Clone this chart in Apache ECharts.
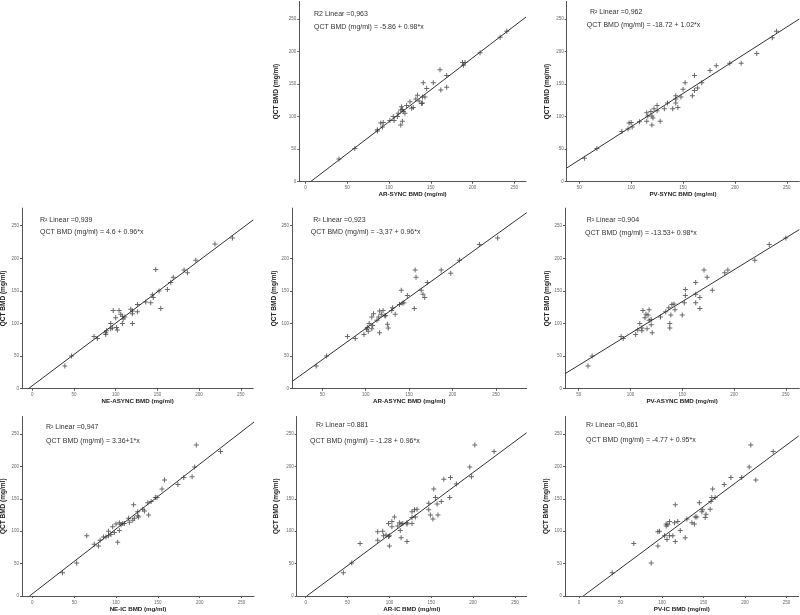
<!DOCTYPE html>
<html>
<head>
<meta charset="utf-8">
<script src="https://cdn.jsdelivr.net/npm/echarts@6/dist/echarts.min.js"></script>
<style>html,body{margin:0;padding:0;background:#fff}#c{width:800px;height:615px}</style>
</head>
<body>
<div id="c"></div>
<script>
// ---- data ----
const xAxisNames = ['AR-SYNC BMD (mg/ml)','PV-SYNC BMD (mg/ml)','NE-ASYNC BMD (mg/ml)','AR-ASYNC BMD (mg/ml)','PV-ASYNC BMD (mg/ml)','NE-IC BMD (mg/ml)','AR-IC BMD (mg/ml)','PV-IC BMD (mg/ml)'];
const yAxisName = 'QCT BMD (mg/ml)';
const r2Labels = ['R2 Linear =0,963','R² Linear =0,962','R² Linear =0,939','R² Linear =0,923','R² Linear =0.904','R² Linear =0,947','R² Linear =0.881','R² Linear =0,861'];
const eqLabels = ['QCT BMD (mg/ml) = -5.86 + 0.98*x','QCT BMD (mg/ml) = -18.72 + 1.02*x','QCT BMD (mg/ml) = 4.6 + 0.96*x','QCT BMD (mg/ml) = -3,37 + 0.96*x','QCT BMD (mg/ml) = -13.53+ 0.98*x','QCT BMD (mg/ml) = 3.36+1*x','QCT BMD (mg/ml) = -1.28 + 0.96*x','QCT BMD (mg/ml) = -4.77 + 0.95*x'];
const yTicks = [0,50,100,150,200,250];
const xTicksFrom0 = [0,50,100,150,200,250];
const xTicksFrom50 = [50,100,150,200,250];
const xMins = [-7.5, 37.9, -12.4, 15.1, 36.8, -12.4, -10.7, -16.9];
const xMaxs = [264, 262, 265, 285.5, 263, 265, 264, 264.7];
const yMin = 0, yMax = 277;

const arSync = [[40,35],[59,51],[86,78],[86,80],[90,90],[93,91],[92,84],[101,94],[105,100],[106,94],[110,100],[111,105],[114,110],[115,115],[116,93],[114,87],[116,111],[117,108],[119,105],[121,117],[125,123],[127,113],[129,114],[132,127],[134,133],[136,124],[139,120],[140,121],[140,130],[141,152],[143,130],[145,143],[153,152],[161,172],[162,141],[169,163],[169,145],[188,183],[189,179],[191,183],[209,198],[233,222],[241,231]];
const pvSync = [[55,36],[67,51],[91,77],[97,81],[98,90],[100,91],[101,84],[108,92],[115,93],[115,106],[116,101],[119,108],[120,101],[120,87],[121,98],[122,112],[125,117],[125,109],[128,93],[132,112],[135,121],[140,112],[143,127],[143,132],[143,121],[145,114],[148,130],[150,142],[152,152],[159,132],[161,140],[161,163],[164,144],[168,152],[176,171],[182,178],[195,182],[206,182],[221,197],[236,221],[240,231]];
const neAsync = [[39,35],[47,50],[74,80],[78,77],[88,86],[88,83],[89,89],[94,100],[94,92],[96,93],[97,120],[100,109],[101,94],[102,90],[104,120],[106,114],[108,111],[109,107],[111,110],[108,100],[118,122],[120,115],[120,100],[120,119],[126,129],[126,118],[136,133],[142,132],[144,144],[145,140],[148,183],[152,150],[154,123],[162,152],[166,163],[169,171],[182,182],[186,178],[196,197],[219,222],[240,231]];
const arAsync = [[43,35],[55,50],[79,80],[88,77],[98,83],[101,91],[102,94],[103,88],[104,100],[107,92],[107,110],[109,115],[108,97],[113,105],[115,110],[116,119],[116,86],[118,114],[120,120],[122,112],[123,112],[125,99],[126,93],[130,120],[131,124],[134,114],[139,129],[142,131],[144,132],[141,151],[148,143],[156,123],[157,182],[158,171],[164,151],[166,145],[168,140],[171,163],[187,182],[198,177],[208,197],[231,221],[252,231]];
const pvAsync = [[59,35],[63,50],[91,80],[93,77],[105,83],[107,90],[109,100],[111,93],[111,89],[112,120],[114,109],[115,114],[116,92],[117,113],[118,121],[118,105],[120,106],[120,98],[121,86],[129,110],[134,118],[137,124],[138,100],[138,93],[139,113],[140,129],[142,130],[143,121],[150,113],[152,132],[153,143],[153,152],[163,163],[163,132],[163,145],[167,123],[167,140],[171,182],[174,171],[179,151],[191,178],[194,182],[220,197],[234,221],[250,231]];
const neIc = [[36,36],[53,51],[65,93],[74,80],[79,77],[81,86],[85,91],[88,91],[91,93],[91,100],[94,95],[96,107],[98,98],[100,111],[102,83],[104,101],[104,113],[106,110],[108,112],[110,112],[115,120],[116,114],[120,117],[121,141],[122,120],[126,124],[126,130],[127,122],[132,134],[134,131],[138,144],[139,125],[142,146],[147,152],[149,152],[155,165],[158,179],[174,172],[181,183],[191,184],[194,199],[196,233],[225,223]];
const arIc = [[45,36],[55,51],[65,81],[86,99],[86,86],[92,100],[93,93],[96,94],[99,92],[99,112],[100,77],[100,93],[103,115],[103,107],[106,122],[110,108],[112,113],[113,101],[114,90],[114,111],[116,112],[121,113],[121,84],[121,111],[127,112],[127,130],[127,121],[130,133],[131,122],[133,134],[147,143],[147,133],[149,125],[152,119],[153,165],[155,152],[157,142],[158,125],[162,146],[165,180],[172,152],[173,183],[180,173],[196,199],[198,184],[202,233],[225,223]];
const pvIc = [[40,36],[66,81],[87,51],[95,77],[95,99],[97,100],[103,93],[105,111],[105,108],[106,87],[107,110],[109,115],[109,93],[113,93],[115,113],[116,141],[116,84],[119,115],[122,101],[128,90],[130,119],[136,113],[139,111],[140,122],[142,122],[145,144],[148,130],[149,133],[152,121],[153,126],[158,134],[159,146],[160,152],[161,165],[164,152],[175,172],[183,183],[196,183],[205,199],[207,233],[213,179],[234,223]];

// regression line endpoints as seen in the picture
const fitLines = [
  [[6,0],[264,253]],
  [[37.9,21],[262,250]],
  [[-4.8,0],[265,259]],
  [[15.1,11],[285.5,270]],
  [[36.8,23],[263,244]],
  [[-3.4,0],[265,268.5]],
  [[1.3,0],[264,252]],
  [[5,0],[264.7,247]]
];

const panelData = [arSync, pvSync, neAsync, arAsync, pvAsync, neIc, arIc, pvIc];
const panelXTicks = [xTicksFrom0, xTicksFrom50, xTicksFrom0, xTicksFrom50, xTicksFrom50, xTicksFrom0, xTicksFrom0, xTicksFrom0];

// ---- layout ----
const layout = [
  {left:299.3, top:1.4, width:226.7, height:180.3},
  {left:566.7, top:1.4, width:232.6, height:180.3},
  {left:22, top:208.1, width:231.3, height:180.6},
  {left:292, top:208.1, width:234.7, height:180.6},
  {left:565, top:208.1, width:234.3, height:180.6},
  {left:22, top:416.5, width:232, height:179.5},
  {left:296.7, top:416.5, width:230, height:179.5},
  {left:565, top:416.5, width:233.7, height:179.5}
];
const yNameGaps = [19.8, 15.5, 15.2, 14.5, 13.2, 15.6, 17.2, 14.8];
const textPos = [
  [[314,14],[314,27.3]],
  [[590,11.7],[586.7,25]],
  [[40,220],[40,232.3]],
  [[313.3,220],[310.7,232.3]],
  [[586.7,220],[585,233.3]],
  [[46,427.3],[46,441]],
  [[316,425],[310,440.7]],
  [[586,425],[586,440]]
];

const FONT = '"Liberation Sans", Arial, sans-serif';
const plusPath = 'path://M4,0h2v4h4v2h-4v4h-2v-4h-4v-2h4z';

const grids = [], xAxes = [], yAxes = [], series = [], graphics = [];
layout.forEach((g, i) => {
  grids.push(Object.assign({outerBoundsMode:'none', containLabel:false}, g));
  xAxes.push({
    type:'value', gridIndex:i, min:xMins[i], max:xMaxs[i],
    name:xAxisNames[i], nameLocation:'middle', nameGap:8,
    nameTextStyle:{fontWeight:'bold', fontSize:6.2, color:'#222', fontFamily:FONT},
    axisLine:{onZero:false, lineStyle:{color:'#555', width:1}},
    axisTick:{show:true, length:2, customValues:panelXTicks[i], lineStyle:{color:'#555'}},
    axisLabel:{customValues:panelXTicks[i], fontSize:4.5, color:'#666', margin:4, fontFamily:FONT},
    splitLine:{show:false}
  });
  yAxes.push({
    type:'value', gridIndex:i, min:yMin, max:yMax,
    name:yAxisName, nameLocation:'middle', nameGap:yNameGaps[i],
    nameTextStyle:{fontWeight:'bold', fontSize:6.5, color:'#222', fontFamily:FONT},
    axisLine:{show:true, onZero:false, lineStyle:{color:'#555', width:1}},
    axisTick:{show:true, length:2, customValues:yTicks, lineStyle:{color:'#555'}},
    axisLabel:{customValues:yTicks, fontSize:4.5, color:'#666', margin:3, fontFamily:FONT},
    splitLine:{show:false}
  });
  series.push({
    type:'scatter', xAxisIndex:i, yAxisIndex:i, data:panelData[i],
    symbol:plusPath, symbolSize:5, itemStyle:{color:'#444'}, silent:true
  });
  series.push({
    type:'line', xAxisIndex:i, yAxisIndex:i, data:fitLines[i],
    symbol:'none', lineStyle:{color:'#333', width:1}, clip:true, silent:true
  });
  graphics.push({type:'text', x:textPos[i][0][0], y:textPos[i][0][1],
    style:{text:r2Labels[i], font:'7px ' + FONT, fill:'#333', verticalAlign:'middle'}});
  graphics.push({type:'text', x:textPos[i][1][0], y:textPos[i][1][1],
    style:{text:eqLabels[i], font:'7px ' + FONT, fill:'#333', verticalAlign:'middle'}});
});

const chart = echarts.init(document.getElementById('c'), null, {renderer:'canvas'});
chart.setOption({
  animation:false,
  backgroundColor:'#fff',
  grid:grids, xAxis:xAxes, yAxis:yAxes, series:series, graphic:graphics
});
</script>
</body>
</html>
